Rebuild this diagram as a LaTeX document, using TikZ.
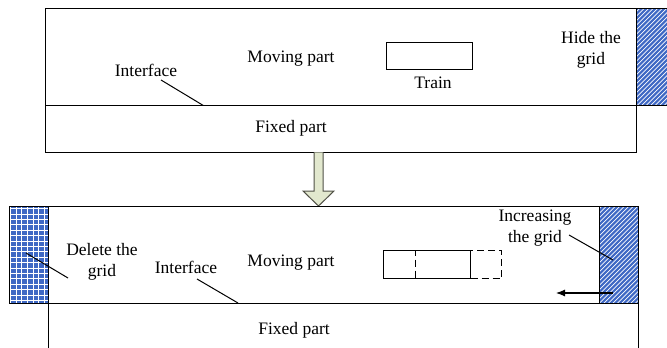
\documentclass[tikz,border=0pt]{standalone}
\usepackage{fontspec}
\setmainfont{Liberation Serif}
\usetikzlibrary{arrows.meta}
\definecolor{gridblue}{RGB}{62,104,196}
\definecolor{arrowfill}{RGB}{226,232,206}
\definecolor{arrowline}{RGB}{80,80,70}
\begin{document}
\begin{tikzpicture}[x=1pt,y=-1pt,
  box/.style={draw=black,line width=1.1pt,rectangle,inner sep=0pt,anchor=north west},
  lbl/.style={font=\fontsize{17.5}{21}\selectfont,align=center,inner sep=0pt},
  leader/.style={draw=black,line width=1pt},
  hatchline/.style={white,line width=0.7pt},
]
\useasboundingbox (0,0) rectangle (667,348);
\clip (0,0) rectangle (667,348);
\fill[white] (0,0) rectangle (667,348);

% ---------- top figure ----------
% hatched block (hidden grid)
\begin{scope}
  \clip (635.5,8.3) rectangle (680,105.3);
  \fill[gridblue] (635.5,8.3) rectangle (680,105.3);
  \foreach \a in {520,524.5,...,690} \draw[hatchline] (\a,110) -- ++(110,-110);
\end{scope}
\node[box,minimum width=50pt,minimum height=97pt] (hideblk) at (635.5,8.3) {};
\node[box,minimum width=591pt,minimum height=97pt] (tm) at (44.5,8.3) {};
\node[box,minimum width=591pt,minimum height=47pt] (tf) at (44.5,105.3) {};
\node[box,minimum width=86pt,minimum height=27pt,line width=1pt] (train) at (386,42) {};

\node[lbl] (int1) at (146,70) {Interface};
\node[lbl] (mp1) at (291,59) {Moving part};
\node[lbl] (trainlbl) at (433,83) {Train};
\node[lbl] (hide) at (591,50) {Hide the\\grid};
\node[lbl] (fp1) at (291,128) {Fixed part};
\coordinate (i1a) at (161,80);
\coordinate (i1b) at (203,105.3);
\draw[leader] (i1a) -- (i1b);

% ---------- transition arrow ----------
\coordinate (ar0) at (318.5,152.3);
\coordinate (ar1) at (318.5,206);
\draw[fill=arrowfill,draw=arrowline,line width=1pt,line join=miter]
  (314,152.3) -- (314,191) -- (303,191) -- (ar1) -- (334,191) -- (323,191) -- (323,152.3);

% ---------- bottom figure ----------
% grid block (delete)
\begin{scope}
  \clip (8.5,206) rectangle (48,303);
  \fill[gridblue] (8.5,206) rectangle (48,303);
  \foreach \k in {0,...,8} \draw[white,line width=0.6pt] (10.5+5.6*\k,200) -- (10.5+5.6*\k,310);
  \foreach \k in {0,...,18} \draw[white,line width=0.6pt] (0,208.5+5.4*\k) -- (60,208.5+5.4*\k);
\end{scope}
\node[box,minimum width=39.5pt,minimum height=97pt] (delblk) at (8.5,206) {};
% hatched block (increasing)
\begin{scope}
  \clip (599,206) rectangle (638,303);
  \fill[gridblue] (599,206) rectangle (638,303);
  \foreach \a in {480,484.5,...,650} \draw[hatchline] (\a,310) -- ++(110,-110);
\end{scope}
\node[box,minimum width=39pt,minimum height=97pt] (incblk) at (599,206) {};
\node[box,minimum width=590pt,minimum height=97pt] (bm) at (48,206) {};
\node[box,minimum width=590pt,minimum height=60pt] (bf) at (48,303) {};

% moved train
\node[box,minimum width=86pt,minimum height=28pt,line width=1pt,dash pattern=on 7pt off 4pt] (trainnew) at (415,250) {};
\node[box,minimum width=87pt,minimum height=28pt,line width=1pt] (trainold) at (383,250) {};

\node[lbl] (del) at (102,262) {Delete the\\grid};
\node[lbl] (int2) at (186,267) {Interface};
\node[lbl] (mp2) at (291,263) {Moving part};
\node[lbl] (inc) at (535,228) {Increasing\\the grid};
\node[lbl] (fp2) at (294,330) {Fixed part};

\coordinate (d1) at (26,253);
\coordinate (d2) at (68,278);
\draw[leader] (d1) -- (d2);
\coordinate (i2a) at (197,279);
\coordinate (i2b) at (238,303);
\draw[leader] (i2a) -- (i2b);
\coordinate (n1) at (569,235);
\coordinate (n2) at (613,260);
\draw[leader] (n1) -- (n2);
\coordinate (m1) at (613,293);
\coordinate (m2) at (556,293);
\draw[line width=1.1pt,-{Latex[length=9pt,width=7pt]}] (m1) -- (m2);
\end{tikzpicture}
\end{document}
